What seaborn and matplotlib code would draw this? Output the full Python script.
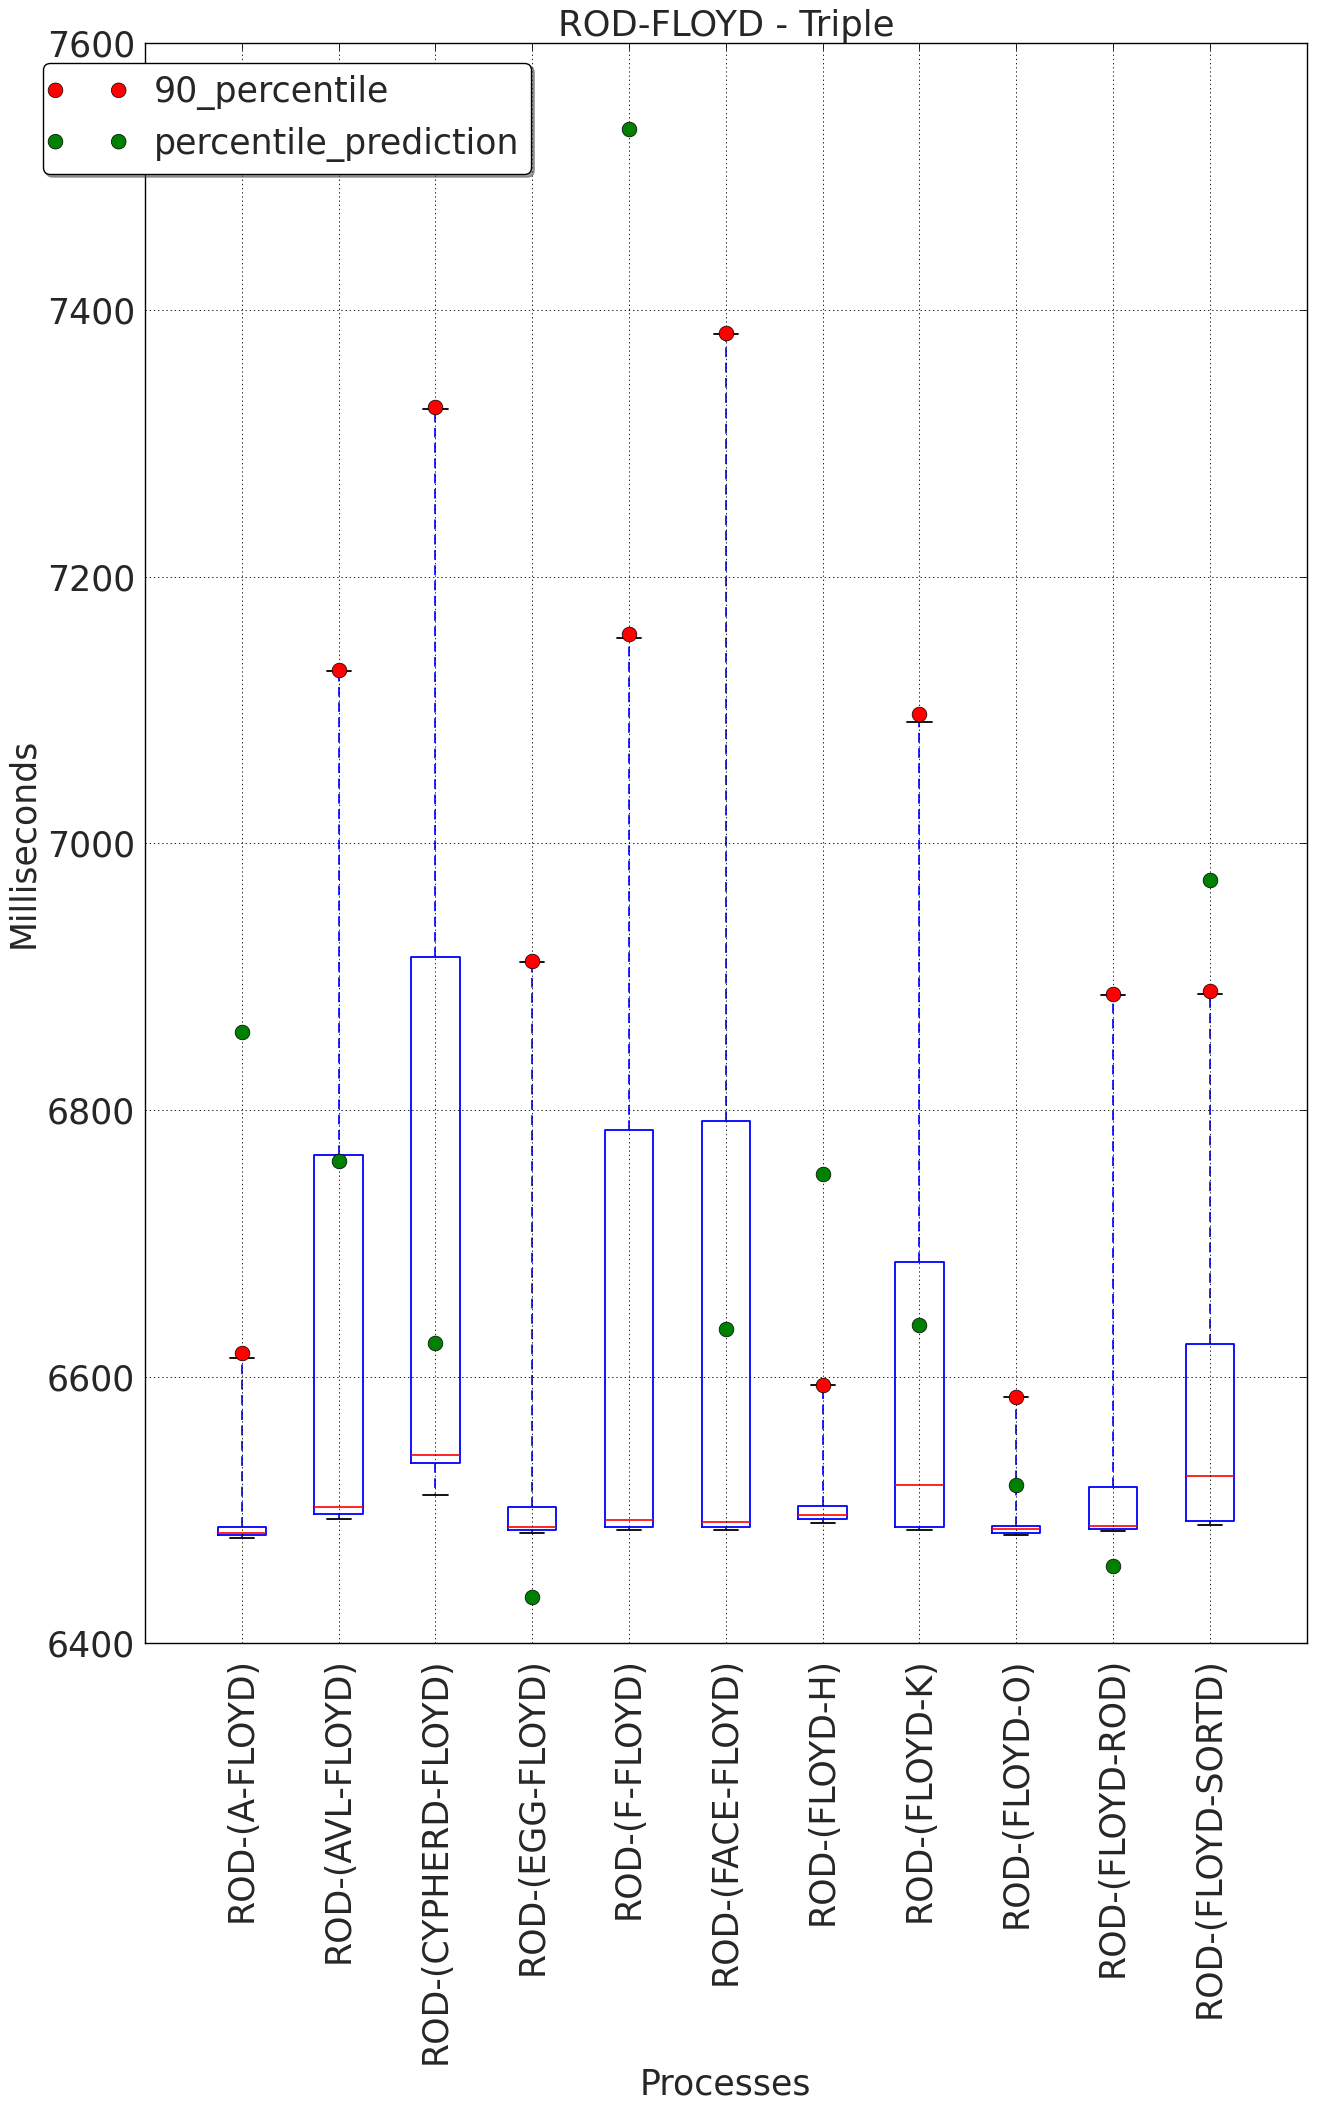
import matplotlib
matplotlib.use("Agg")
import matplotlib.pyplot as plt
from matplotlib.collections import PathCollection
from matplotlib.legend_handler import HandlerPathCollection
import numpy as np
import pandas as pd
import seaborn as sns

processes = ["ROD-(A-FLOYD)", "ROD-(AVL-FLOYD)", "ROD-(CYPHERD-FLOYD)",
             "ROD-(EGG-FLOYD)", "ROD-(F-FLOYD)", "ROD-(FACE-FLOYD)",
             "ROD-(FLOYD-H)", "ROD-(FLOYD-K)", "ROD-(FLOYD-O)",
             "ROD-(FLOYD-ROD)", "ROD-(FLOYD-SORTD)"]

# box summaries (ms)
low = [6479, 6493, 6511, 6483, 6485, 6485, 6490, 6485, 6481, 6484, 6489]
q1 = [6481, 6497, 6535, 6485, 6487.5, 6487, 6493, 6487, 6483, 6485.5, 6492]
median = [6483, 6502, 6541, 6487, 6492.5, 6491, 6496, 6519, 6486, 6488, 6525.5]
q3 = [6487, 6766, 6915, 6502, 6785, 6792, 6503, 6686, 6488, 6517, 6624.5]
high = [6614, 7129, 7326, 6911, 7154, 7382, 6594, 7091, 6585, 6886, 6887]

# points
p90 = [6617.5, 7130, 7327, 6912, 7157, 7383, 6594, 7097, 6585, 6887, 6889]
prediction = [6858.5, 6762, 6625, 6435, 7536, 6636, 6752, 6639, 6519, 6458, 6972.5]

# five numbers per process -> seaborn boxplot with whiskers at min/max
box_df = pd.DataFrame({
    "process": np.repeat(processes, 5),
    "ms": np.column_stack([low, q1, median, q3, high]).ravel(),
})

sns.set_style("whitegrid")
plt.rcParams["font.family"] = ["DejaVu Sans"]
plt.rcParams["lines.scale_dashes"] = False

fig = plt.figure(figsize=(13.17, 21.10), dpi=100)
ax = fig.add_axes([145 / 1317, 1 - 1643.3 / 2110, 1161.7 / 1317, 1600 / 2110])

sns.boxplot(data=box_df, x="process", y="ms", order=processes, whis=(0, 100),
            width=0.5, fill=False, showfliers=False, linewidth=1.3, ax=ax,
            boxprops=dict(color="blue", linewidth=1.3),
            whiskerprops=dict(color="blue", linestyle=(0, (7, 4)), linewidth=1.2),
            capprops=dict(color="black", linewidth=1.3),
            medianprops=dict(color="red", linewidth=1.2))

pos = np.arange(len(processes))
sns.scatterplot(x=pos, y=p90, color="red", s=112, edgecolor="black",
                linewidth=0.5, label="90_percentile", ax=ax, zorder=3)
sns.scatterplot(x=pos, y=prediction, color="green", s=112, edgecolor="black",
                linewidth=0.5, label="percentile_prediction", ax=ax, zorder=3)

ax.set_xlim(-1, len(processes))
ax.set_ylim(6400, 7600)
ax.set_yticks(np.arange(6400, 7601, 200))
ax.set_xticks(pos)
ax.set_xticklabels(processes, rotation=90)
ax.set_facecolor("white")

ax.set_axisbelow(False)
ax.grid(True, axis="both", color="black", linestyle=(0, (1, 2)), linewidth=0.6)
for sp in ax.spines.values():
    sp.set_color("black")
    sp.set_linewidth(1)
ax.tick_params(direction="in", length=5, width=0.6, color="black",
               top=True, right=True, labelsize=25)
ax.tick_params(axis="x", pad=10)
ax.tick_params(axis="y", pad=7)

ax.set_title("ROD-FLOYD - Triple", fontsize=25.5, pad=5)
ax.set_xlabel("Processes", fontsize=25, labelpad=3)
ax.set_ylabel("Milliseconds", fontsize=25, labelpad=5)

leg = ax.legend(loc="upper left", bbox_to_anchor=(43 / 1317, 1 - 63 / 2110),
                bbox_transform=fig.transFigure, borderaxespad=0,
                scatterpoints=2, scatteryoffsets=[0.5], fancybox=True,
                shadow=True, fontsize=25, framealpha=1, edgecolor="black",
                borderpad=0.36, labelspacing=0.47, handlelength=1.82,
                handletextpad=1.0,
                handler_map={PathCollection: HandlerPathCollection(
                    marker_pad=0.0, sizes=[112, 112])})
leg.get_frame().set_linewidth(1)

fig.savefig("out.png", dpi=100)
